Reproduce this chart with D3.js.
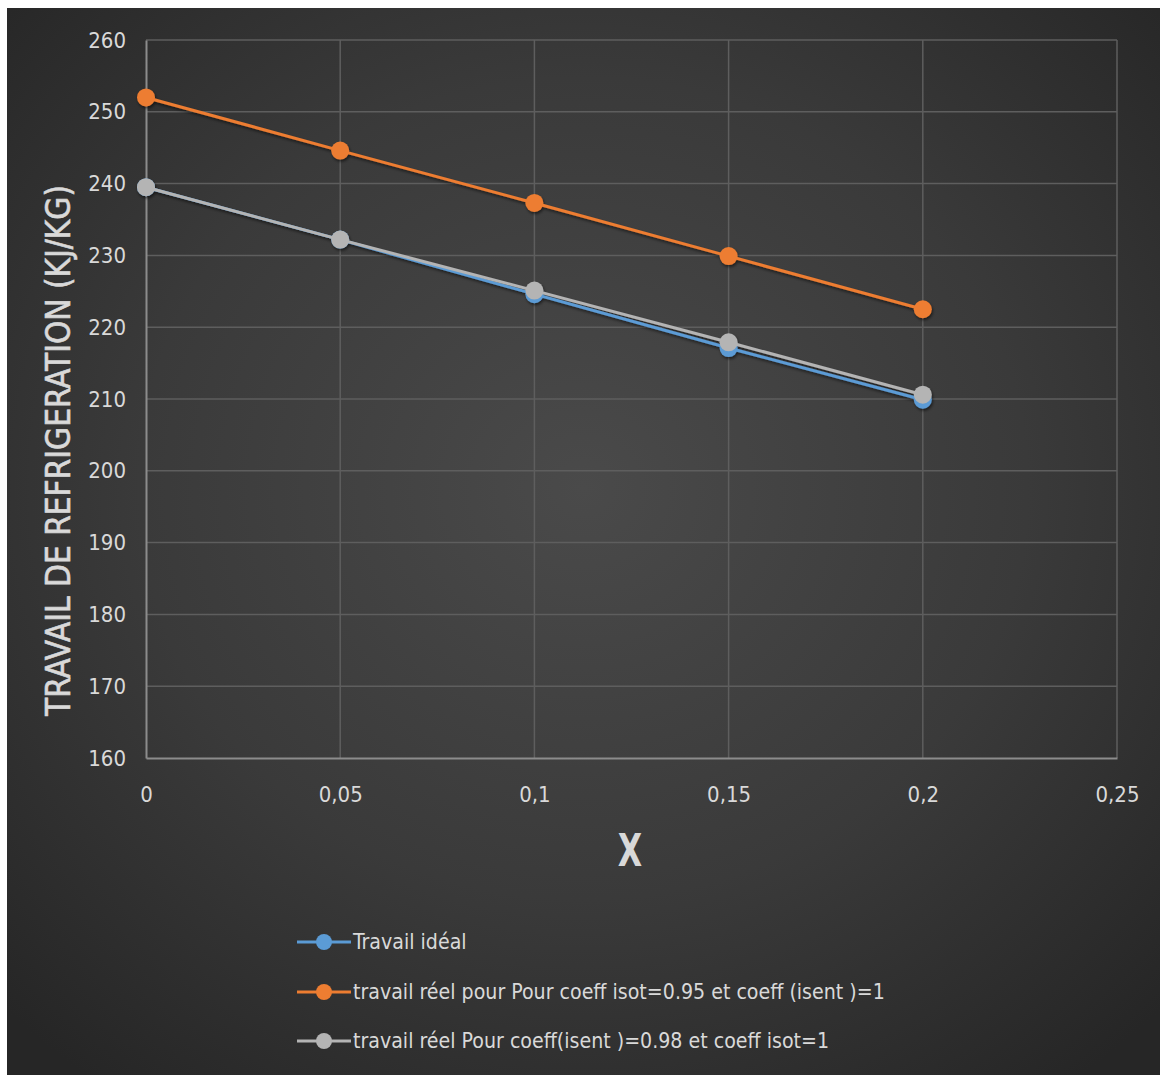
<!DOCTYPE html>
<html>
<head>
<meta charset="utf-8">
<script src="https://cdn.jsdelivr.net/npm/d3@7"></script>
<style>
  html, body { margin: 0; padding: 0; background: #ffffff; }
  svg { display: block; }
</style>
</head>
<body>
<svg id="chart" width="1160" height="1075"></svg>
<script>
// X values (fraction) and the three work curves (kJ/kg)
const xValues = [0, 0.05, 0.1, 0.15, 0.2];
const travailIdeal = [239.5, 232.2, 224.6, 217.1, 209.9];
const travailIsot = [252.0, 244.6, 237.3, 229.9, 222.5];
const travailIsent = [239.5, 232.2, 225.1, 217.9, 210.6];

const seriesNames = [
  "Travail idéal",
  "travail réel pour Pour coeff isot=0.95 et coeff (isent )=1",
  "travail réel Pour coeff(isent )=0.98 et coeff isot=1"
];
const seriesColors = ["#5B9BD5", "#ED7D31", "#B4B4B4"];

const yTicks = [160, 170, 180, 190, 200, 210, 220, 230, 240, 250, 260];
const xTicks = [0, 0.05, 0.1, 0.15, 0.2, 0.25];
const xTickLabels = ["0", "0,05", "0,1", "0,15", "0,2", "0,25"];

const yTitle = "TRAVAIL DE REFRIGERATION (KJ/KG)";
const xTitle = "X";

const series = [travailIdeal, travailIsot, travailIsent].map((vals, i) => ({
  name: seriesNames[i],
  color: seriesColors[i],
  points: vals.map((v, j) => ({ x: xValues[j], y: v }))
}));

const svg = d3.select("#chart");
const W = 1160, H = 1075;
const font = "'DejaVu Sans Condensed', 'Liberation Sans Narrow', 'Open Sans', sans-serif";

// Shrink or grow a text node's font size so it spans the given width
function fitWidth(sel, width) {
  const node = sel.node();
  const fs = parseFloat(sel.attr("font-size"));
  const w = node.getComputedTextLength();
  if (w > 0) sel.attr("font-size", (fs * width / w).toFixed(2));
  return sel;
}

// Background panel with a soft radial shading
const defs = svg.append("defs");
const grad = defs.append("radialGradient")
  .attr("id", "bg").attr("cx", "50%").attr("cy", "45%").attr("r", "70%");
grad.append("stop").attr("offset", "0%").attr("stop-color", "#4a4a4a");
grad.append("stop").attr("offset", "55%").attr("stop-color", "#3a3a3a");
grad.append("stop").attr("offset", "100%").attr("stop-color", "#262626");

const shadow = defs.append("filter").attr("id", "shadow")
  .attr("x", "-20%").attr("y", "-20%").attr("width", "140%").attr("height", "140%");
shadow.append("feDropShadow").attr("dx", 1).attr("dy", 2).attr("stdDeviation", 1.5)
  .attr("flood-color", "#000").attr("flood-opacity", 0.55);

svg.append("rect").attr("x", 0).attr("y", 0).attr("width", W).attr("height", H).attr("fill", "#ffffff");
svg.append("rect").attr("x", 7).attr("y", 8).attr("width", W - 7).attr("height", H - 8).attr("fill", "url(#bg)");

// Plot area
const plot = { left: 146, right: 1117, top: 40, bottom: 758 };
const x = d3.scaleLinear().domain([0, 0.25]).range([plot.left, plot.right]);
const y = d3.scaleLinear().domain([160, 260]).range([plot.bottom, plot.top]);

// Grid lines
const grid = svg.append("g");
grid.selectAll("line.h").data(yTicks.slice(1)).join("line")
  .attr("x1", plot.left).attr("x2", plot.right)
  .attr("y1", d => y(d)).attr("y2", d => y(d))
  .attr("stroke", "#5e5e5e").attr("stroke-width", 1.5);
grid.selectAll("line.v").data(xTicks.slice(1)).join("line")
  .attr("x1", d => x(d)).attr("x2", d => x(d))
  .attr("y1", plot.top).attr("y2", plot.bottom)
  .attr("stroke", "#5e5e5e").attr("stroke-width", 1.5);

// Axes
const yAxis = d3.axisLeft(y).tickValues(yTicks).tickSize(0).tickPadding(20);
const gy = svg.append("g").attr("transform", `translate(${plot.left},0)`).call(yAxis);
gy.select(".domain").attr("stroke", "#8c8c8c").attr("stroke-width", 2);
gy.selectAll("text").attr("fill", "#d9d9d9").attr("font-family", font).attr("font-size", 22);

const xAxis = d3.axisBottom(x).tickValues(xTicks).tickSize(0).tickPadding(28)
  .tickFormat((d, i) => xTickLabels[i]);
const gx = svg.append("g").attr("transform", `translate(0,${plot.bottom})`).call(xAxis);
gx.select(".domain").attr("stroke", "#8c8c8c").attr("stroke-width", 2);
gx.selectAll("text").attr("fill", "#d9d9d9").attr("font-family", font).attr("font-size", 22);

// Axis titles
const yt = svg.append("text")
  .attr("transform", `translate(70,${(185 + 716) / 2}) rotate(-90)`)
  .attr("text-anchor", "middle")
  .attr("fill", "#d9d9d9").attr("font-family", font).attr("font-weight", "normal")
  .attr("font-size", 27)
  .attr("stroke", "#d9d9d9").attr("stroke-width", 0.6)
  .text(yTitle);
fitWidth(yt, 531);

svg.append("text")
  .attr("x", 630).attr("y", 866)
  .attr("text-anchor", "middle")
  .attr("fill", "#d9d9d9").attr("font-family", font).attr("font-weight", "bold")
  .attr("font-size", 44)
  .attr("transform", "translate(630,0) scale(0.8,1) translate(-630,0)")
  .text(xTitle);

// Series lines and markers
const line = d3.line().x(d => x(d.x)).y(d => y(d.y));
const gs = svg.append("g").attr("filter", "url(#shadow)");
series.forEach(s => {
  gs.append("path").datum(s.points)
    .attr("d", line).attr("fill", "none")
    .attr("stroke", s.color).attr("stroke-width", 3);
  gs.selectAll(null).data(s.points).join("circle")
    .attr("cx", d => x(d.x)).attr("cy", d => y(d.y)).attr("r", 9)
    .attr("fill", s.color);
});

// Legend
const legend = svg.append("g");
const legendRows = [942, 992, 1041];
const legendTexts = [];
series.forEach((s, i) => {
  const g = legend.append("g").attr("transform", `translate(297,${legendRows[i]})`);
  g.append("line").attr("x1", 0).attr("x2", 54).attr("y1", 0).attr("y2", 0)
    .attr("stroke", s.color).attr("stroke-width", 3);
  g.append("circle").attr("cx", 27).attr("cy", 0).attr("r", 8).attr("fill", s.color);
  legendTexts.push(g.append("text").attr("x", 56).attr("y", 0).attr("dy", "0.35em")
    .attr("fill", "#d9d9d9").attr("font-family", font).attr("font-size", 22)
    .text(s.name));
});
// One shared size, chosen so the longest entry spans its row
fitWidth(legendTexts[1], 532);
const legendSize = legendTexts[1].attr("font-size");
legendTexts.forEach(t => t.attr("font-size", legendSize));
</script>
</body>
</html>
